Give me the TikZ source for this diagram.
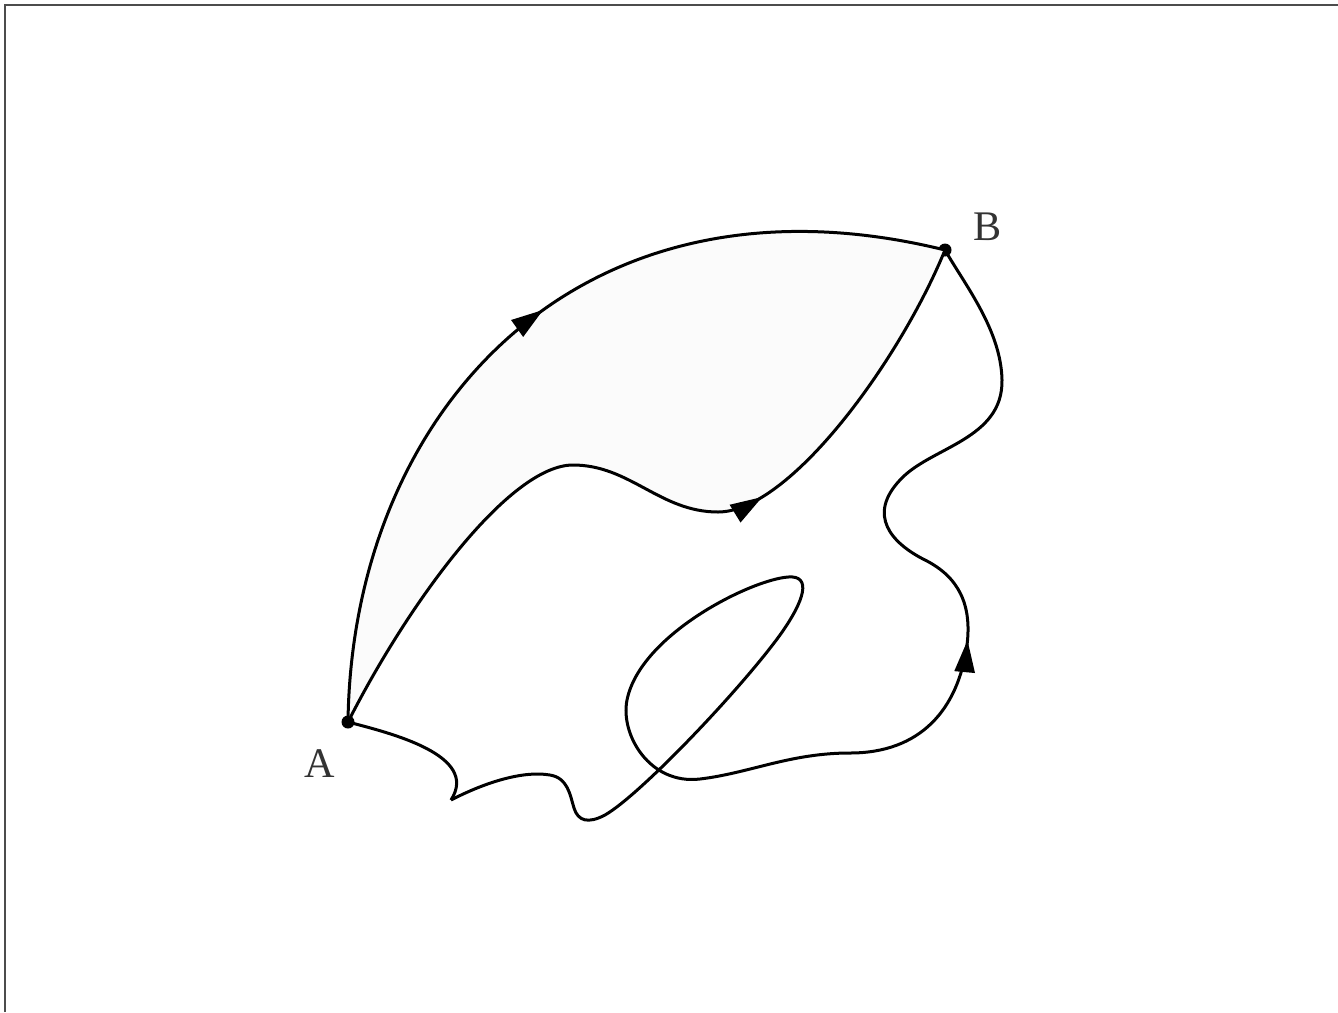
\documentclass[tikz,border=0pt]{standalone}
\usepackage{fontspec}
\setmainfont{Liberation Serif}
\usetikzlibrary{arrows.meta,decorations.markings}

\begin{document}
\begin{tikzpicture}[x=0.1mm, y=-0.1mm,
    line width=0.3mm,
    frame/.style={draw=black!70, line width=0.2mm},
    dot/.style={circle, fill=black, inner sep=0pt, minimum size=1.3mm},
    lbl/.style={font=\large, text=black!80},
    inside/.style={fill=black!1.5},
    tri/.tip={Triangle[length=3.2mm, width=2mm]},
    midarrow/.style={postaction={decorate, decoration={markings, mark=at position #1 with {\arrow{tri}}}}}]

\useasboundingbox (0,0) rectangle (1338,1012);
\draw [frame] (5,1012) |- (1338,5);

\node [dot] (A) at (348,722) {};
\node [dot] (B) at (945,250) {};
\node [lbl] (labA) at (320,764) {A};
\node [lbl] (labB) at (988,227) {B};

\fill [inside] (A.center) .. controls (352,410) and (580,160) .. (B.center)
  .. controls (900,360) and (790,512) .. (718,512)
  .. controls (660,512) and (630,465) .. (573,465)
  .. controls (510,465) and (410,600) .. (A.center) -- cycle;

\draw [midarrow=0.53] (A.center) .. controls (352,410) and (580,160) .. (B.center);
\draw [midarrow=0.64] (A.center) .. controls (410,600) and (510,465) .. (573,465)
  .. controls (630,465) and (660,512) .. (718,512)
  .. controls (790,512) and (900,360) .. (B.center);

\draw (A.center) .. controls (390,733) and (480,755) .. (451,800);
\draw [midarrow=0.705] (451,800) .. controls (480,785) and (520,770) .. (550,775)
  .. controls (568,778) and (570,795) .. (574,808)
  .. controls (578,821) and (588,824) .. (605,815)
  .. controls (640,795) and (740,690) .. (780,635)
  .. controls (805,600) and (812,575) .. (788,577)
  .. controls (750,580) and (640,635) .. (627,700)
  .. controls (620,735) and (650,785) .. (700,779)
  .. controls (750,773) and (790,753) .. (850,753)
  .. controls (920,753) and (958,710) .. (967,645)
  .. controls (972,605) and (959,577) .. (925,560)
  .. controls (891,543) and (867,515) .. (900,480)
  .. controls (930,447) and (1003,440) .. (1002,380)
  .. controls (1001,330) and (965,285) .. (B.center);

\end{tikzpicture}
\end{document}
